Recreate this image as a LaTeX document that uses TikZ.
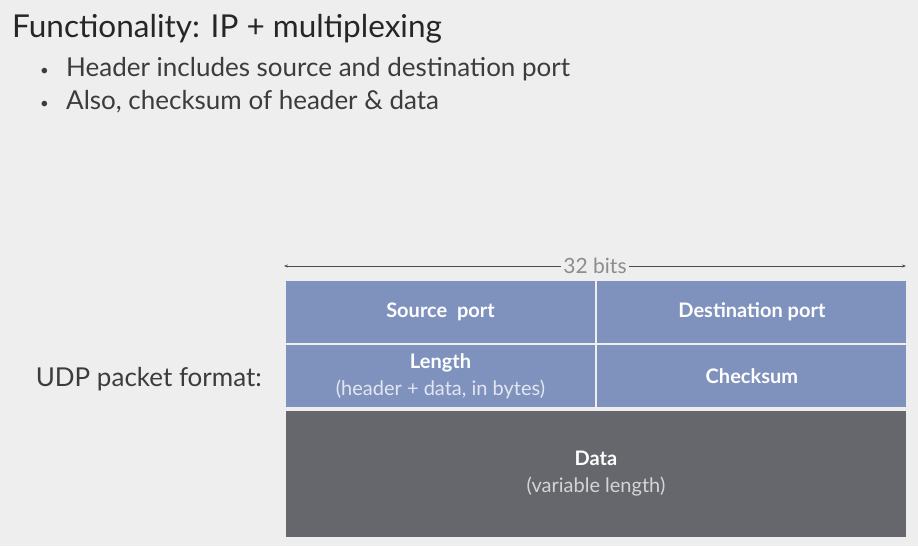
\documentclass[tikz,border=0pt]{standalone}
\usepackage{fontspec}
\setmainfont{Lato}
\usetikzlibrary{arrows.meta,positioning}

\definecolor{slidebg}{HTML}{EEEEEE}
\definecolor{hdrblue}{HTML}{7F92BE}
\definecolor{datagray}{HTML}{66676C}
\definecolor{titletext}{HTML}{262626}
\definecolor{bodytext}{HTML}{3C3C3C}
\definecolor{softblue}{HTML}{E2E6F0}
\definecolor{softgray}{HTML}{D4D4D6}

\begin{document}
\begin{tikzpicture}[x=1pt, y=-1pt, every node/.style={inner sep=0pt},
  cell/.style={rectangle, fill=hdrblue, text=white, minimum width=309pt, minimum height=62pt, align=center, font=\fontsize{20}{27}\selectfont\bfseries},
  datacell/.style={cell, fill=datagray, minimum width=620pt, minimum height=126pt},
  bodyline/.style={anchor=base west, text=bodytext, font=\fontsize{26}{30}\selectfont}]
% background and page size
\fill[slidebg] (0,0) rectangle (918,546);
\useasboundingbox (0,0) rectangle (918,546);

% Title and bullets
\node (title)   [anchor=base west, text=titletext, font=\fontsize{31.5}{36}\selectfont] at (12,37) {Functionality: IP + multiplexing};
\node (bullet1) [bodyline] at (40,76)  {\makebox[26pt][l]{\raisebox{1pt}{\fontsize{15}{15}\selectfont\textbullet}}Header includes source and destination port};
\node (bullet2) [bodyline] at (40,109) {\makebox[26pt][l]{\raisebox{1pt}{\fontsize{15}{15}\selectfont\textbullet}}Also, checksum of header \& data};

% Packet fields
\node (srcport)  [cell] at (440.5,312) {Source\ \ port};
\node (dstport)  [cell, right=2pt of srcport] {Destination port};
\node (length)   [cell, below=2pt of srcport] {Length\\{\mdseries\color{softblue}(header + data, in bytes)}};
\node (checksum) [cell, below=2pt of dstport] {Checksum};
\node (data)     [datacell, anchor=north west] at ([yshift=-3pt]length.south west) {Data\\{\mdseries\color{softgray}(variable length)}};

\node (udplabel) [anchor=east, text=bodytext, font=\fontsize{26}{30}\selectfont] at (262,379) {UDP packet format:};

% Width marker
\coordinate (wleft)  at (284,266);
\coordinate (wright) at (906,266);
\draw[{Stealth[length=4pt,width=3pt]}-{Stealth[length=4pt,width=3pt]}, draw=black!70, line width=0.7pt] (wleft) -- node[fill=slidebg, inner xsep=2pt, inner ysep=1pt, text=black!45, font=\fontsize{21}{24}\selectfont]{32 bits} (wright);

\end{tikzpicture}
\end{document}
